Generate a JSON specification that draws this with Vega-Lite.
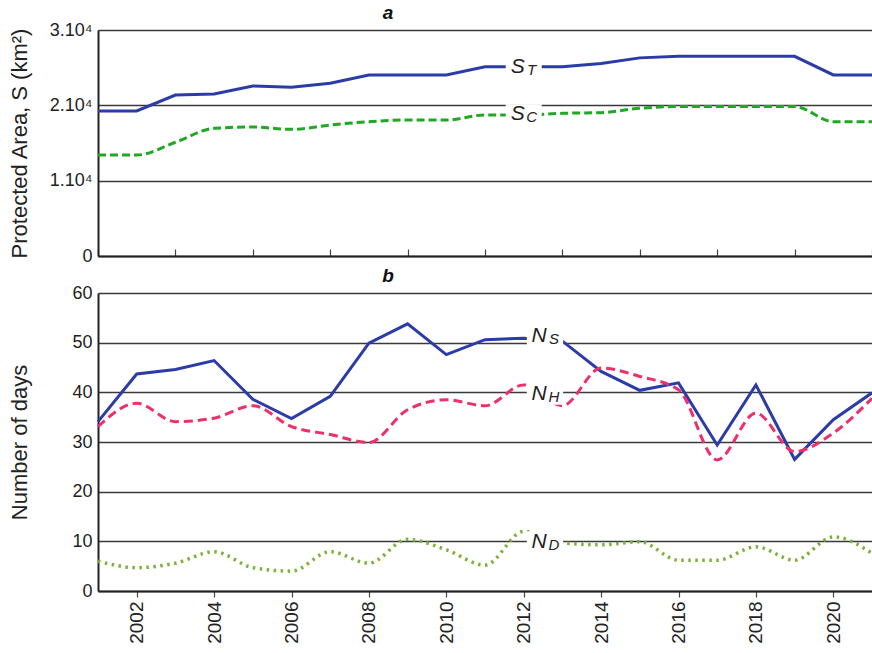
{
  "$schema": "https://vega.github.io/schema/vega-lite/v6.json",
  "background": "white",
  "padding": {"left": 8, "top": 4, "right": 0, "bottom": 60},
  "spacing": 37,
  "bounds": "flush",
  "config": {
    "view": {"stroke": null},
    "font": "Liberation Sans",
    "axis": {
      "labelFont": "Liberation Sans",
      "labelFontSize": 18,
      "labelColor": "#222222",
      "titleFont": "Liberation Sans",
      "titleFontSize": 22,
      "titleFontWeight": "normal",
      "titleColor": "#222222",
      "domainColor": "#222222",
      "domainWidth": 2,
      "gridColor": "#3a3a3a",
      "gridWidth": 1.6,
      "gridOpacity": 1
    },
    "title": {
      "font": "Liberation Sans",
      "fontSize": 19,
      "fontStyle": "italic",
      "fontWeight": "bold",
      "color": "#111111",
      "anchor": "middle",
      "frame": "group",
      "dx": -97,
      "offset": -2
    }
  },
  "datasets": {
    "area": [
      {"year": 2001, "ST": 19250, "SC": 13400},
      {"year": 2002, "ST": 19250, "SC": 13400},
      {"year": 2003, "ST": 21370, "SC": 15100},
      {"year": 2004, "ST": 21500, "SC": 16950},
      {"year": 2005, "ST": 22570, "SC": 17120},
      {"year": 2006, "ST": 22390, "SC": 16810},
      {"year": 2007, "ST": 22920, "SC": 17390},
      {"year": 2008, "ST": 24030, "SC": 17830},
      {"year": 2009, "ST": 24030, "SC": 18050},
      {"year": 2010, "ST": 24030, "SC": 18050},
      {"year": 2011, "ST": 25130, "SC": 18720},
      {"year": 2012, "ST": 25130, "SC": 18720},
      {"year": 2013, "ST": 25130, "SC": 18940},
      {"year": 2014, "ST": 25560, "SC": 19030},
      {"year": 2015, "ST": 26300, "SC": 19610},
      {"year": 2016, "ST": 26500, "SC": 19850},
      {"year": 2017, "ST": 26500, "SC": 19850},
      {"year": 2018, "ST": 26500, "SC": 19850},
      {"year": 2019, "ST": 26500, "SC": 19850},
      {"year": 2020, "ST": 24030, "SC": 17830},
      {"year": 2021, "ST": 24030, "SC": 17830}
    ],
    "areaLabels": [
      {"year": 2012, "value": 25100, "main": "S", "sub": "T"},
      {"year": 2012, "value": 18800, "main": "S", "sub": "C"}
    ],
    "days": [
      {"year": 2001, "NS": 34.1, "NH": 33.1, "ND": 6.0},
      {"year": 2002, "NS": 43.7, "NH": 37.8, "ND": 4.7},
      {"year": 2003, "NS": 44.6, "NH": 34.1, "ND": 5.6},
      {"year": 2004, "NS": 46.4, "NH": 34.8, "ND": 7.9},
      {"year": 2005, "NS": 38.6, "NH": 37.3, "ND": 4.7},
      {"year": 2006, "NS": 34.7, "NH": 33.1, "ND": 4.0},
      {"year": 2007, "NS": 39.2, "NH": 31.5, "ND": 7.9},
      {"year": 2008, "NS": 49.9, "NH": 29.9, "ND": 5.6},
      {"year": 2009, "NS": 53.8, "NH": 36.5, "ND": 10.4},
      {"year": 2010, "NS": 47.6, "NH": 38.5, "ND": 8.3},
      {"year": 2011, "NS": 50.6, "NH": 37.3, "ND": 5.2},
      {"year": 2012, "NS": 50.9, "NH": 41.5, "ND": 12.0},
      {"year": 2013, "NS": 50.3, "NH": 37.3, "ND": 9.7},
      {"year": 2014, "NS": 44.2, "NH": 44.9, "ND": 9.3},
      {"year": 2015, "NS": 40.4, "NH": 43.2, "ND": 9.9},
      {"year": 2016, "NS": 41.9, "NH": 40.5, "ND": 6.2},
      {"year": 2017, "NS": 29.4, "NH": 26.4, "ND": 6.2},
      {"year": 2018, "NS": 41.5, "NH": 35.8, "ND": 8.9},
      {"year": 2019, "NS": 26.5, "NH": 28.1, "ND": 6.2},
      {"year": 2020, "NS": 34.5, "NH": 31.8, "ND": 10.9},
      {"year": 2021, "NS": 39.9, "NH": 38.8, "ND": 7.6}
    ],
    "dayLabels": [
      {"year": 2012.55, "value": 51.3, "main": "N", "sub": "S"},
      {"year": 2012.55, "value": 39.7, "main": "N", "sub": "H"},
      {"year": 2012.55, "value": 9.8, "main": "N", "sub": "D"}
    ]
  },
  "vconcat": [
    {
      "width": 774,
      "height": 226,
      "title": {"text": "a"},
      "layer": [
        {
          "data": {"name": "area"},
          "mark": {"type": "line", "color": "#2B3BA8", "strokeWidth": 3},
          "encoding": {
            "x": {
              "field": "year", "type": "quantitative",
              "scale": {"domain": [2001, 2021], "nice": false, "zero": false},
              "axis": {
                "title": null,
                "values": [2001,2002,2003,2004,2005,2006,2007,2008,2009,2010,2011,2012,2013,2014,2015,2016,2017,2018,2019,2020,2021],
                "labels": false,
                "ticks": true,
                "tickSize": -7,
                "tickColor": "#444444",
                "tickWidth": 1.2,
                "grid": false
              }
            },
            "y": {
              "field": "ST", "type": "quantitative",
              "scale": {"domain": [0, 30000], "nice": false},
              "axis": {
                "title": "Protected Area, S (km²)",
                "values": [0, 5000, 10000, 15000, 20000, 25000, 30000],
                "labelExpr": "datum.value == 0 ? '0' : (datum.value % 10000 == 0 ? format(datum.value / 10000, 'd') + '.10⁴' : '')",
                "labelOverlap": false,
                "ticks": false,
                "grid": true,
                "labelPadding": 6,
                "minExtent": 60,
                "maxExtent": 60,
                "titlePadding": 7
              }
            }
          }
        },
        {
          "data": {"name": "area"},
          "mark": {"type": "line", "color": "#1FA824", "strokeWidth": 3, "strokeDash": [8, 4], "interpolate": "monotone"},
          "encoding": {
            "x": {"field": "year", "type": "quantitative"},
            "y": {"field": "SC", "type": "quantitative"}
          }
        },
        {
          "data": {"name": "areaLabels"},
          "mark": {"type": "point", "shape": "M-1.8,-1H1.8V1H-1.8Z", "size": 400, "filled": true, "fill": "white", "strokeWidth": 0, "opacity": 1},
          "encoding": {
            "x": {"field": "year", "type": "quantitative"},
            "y": {"field": "value", "type": "quantitative"}
          }
        },
        {
          "data": {"name": "areaLabels"},
          "mark": {"type": "text", "fontStyle": "italic", "fontSize": 21, "dx": -6, "color": "#222222", "baseline": "middle"},
          "encoding": {
            "x": {"field": "year", "type": "quantitative"},
            "y": {"field": "value", "type": "quantitative"},
            "text": {"field": "main"}
          }
        },
        {
          "data": {"name": "areaLabels"},
          "mark": {"type": "text", "fontStyle": "italic", "fontSize": 15, "dx": 8, "dy": 3, "color": "#222222", "baseline": "middle"},
          "encoding": {
            "x": {"field": "year", "type": "quantitative"},
            "y": {"field": "value", "type": "quantitative"},
            "text": {"field": "sub"}
          }
        }
      ]
    },
    {
      "width": 774,
      "height": 298,
      "title": {"text": "b"},
      "layer": [
        {
          "data": {"name": "days"},
          "mark": {"type": "line", "color": "#2B3BA8", "strokeWidth": 3},
          "encoding": {
            "x": {
              "field": "year", "type": "quantitative",
              "scale": {"domain": [2001, 2021], "nice": false, "zero": false},
              "axis": {
                "title": null,
                "values": [2002,2004,2006,2008,2010,2012,2014,2016,2018,2020],
                "format": "d",
                "labelAngle": -90,
                "labelFontSize": 19,
                "labelPadding": 4,
                "ticks": true,
                "tickSize": 6,
                "tickColor": "#444444",
                "tickWidth": 1.2,
                "grid": false
              }
            },
            "y": {
              "field": "NS", "type": "quantitative",
              "scale": {"domain": [0, 60], "nice": false},
              "axis": {
                "title": "Number of days",
                "values": [0, 10, 20, 30, 40, 50, 60],
                "ticks": false,
                "grid": true,
                "labelPadding": 6,
                "minExtent": 60,
                "maxExtent": 60,
                "titlePadding": 7
              }
            }
          }
        },
        {
          "data": {"name": "days"},
          "mark": {"type": "line", "color": "#EE2F6A", "strokeWidth": 3, "strokeDash": [9, 5], "interpolate": "monotone"},
          "encoding": {
            "x": {"field": "year", "type": "quantitative"},
            "y": {"field": "NH", "type": "quantitative"}
          }
        },
        {
          "data": {"name": "days"},
          "mark": {"type": "line", "color": "#7CB23A", "strokeWidth": 3.5, "strokeDash": [2.5, 4.5], "interpolate": "monotone"},
          "encoding": {
            "x": {"field": "year", "type": "quantitative"},
            "y": {"field": "ND", "type": "quantitative"}
          }
        },
        {
          "data": {"name": "dayLabels"},
          "mark": {"type": "point", "shape": "M-1.65,-1H1.65V1H-1.65Z", "size": 484, "filled": true, "fill": "white", "strokeWidth": 0, "opacity": 1},
          "encoding": {
            "x": {"field": "year", "type": "quantitative"},
            "y": {"field": "value", "type": "quantitative"}
          }
        },
        {
          "data": {"name": "dayLabels"},
          "mark": {"type": "text", "fontStyle": "italic", "fontSize": 21, "dx": -6, "color": "#222222", "baseline": "middle"},
          "encoding": {
            "x": {"field": "year", "type": "quantitative"},
            "y": {"field": "value", "type": "quantitative"},
            "text": {"field": "main"}
          }
        },
        {
          "data": {"name": "dayLabels"},
          "mark": {"type": "text", "fontStyle": "italic", "fontSize": 15, "dx": 9, "dy": 3, "color": "#222222", "baseline": "middle"},
          "encoding": {
            "x": {"field": "year", "type": "quantitative"},
            "y": {"field": "value", "type": "quantitative"},
            "text": {"field": "sub"}
          }
        }
      ]
    }
  ]
}
